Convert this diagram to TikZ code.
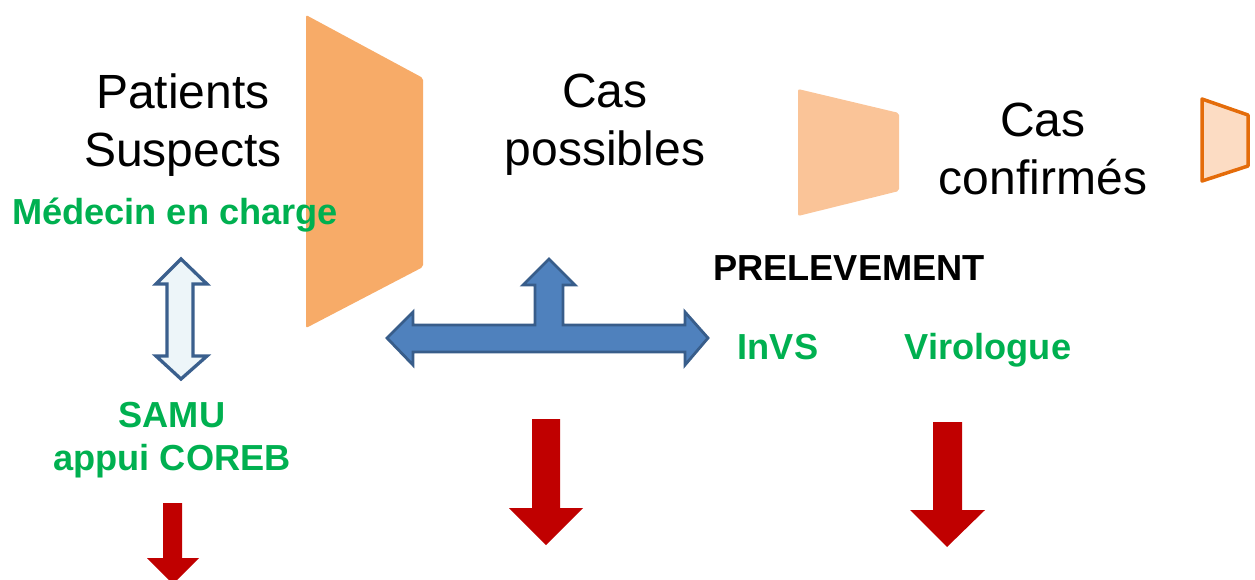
\documentclass[tikz,border=0pt]{standalone}
\usepackage{fontspec}
\setmainfont{Liberation Sans}
\definecolor{funA}{HTML}{F7AB68}
\definecolor{funB}{HTML}{FAC498}
\definecolor{funCfill}{HTML}{FCDCC3}
\definecolor{funCline}{HTML}{E46C0A}
\definecolor{bluefill}{HTML}{4F81BD}
\definecolor{blueline}{HTML}{385D8A}
\definecolor{lightfill}{HTML}{EDF5F9}
\definecolor{navyline}{HTML}{3A5F8D}
\definecolor{darkred}{HTML}{C00000}
\definecolor{grn}{HTML}{00B050}
\tikzset{
  big/.style={font=\fontsize{48}{58}\selectfont, align=center, inner sep=0pt},
  lab/.style={font=\fontsize{36.2}{43}\selectfont\bfseries, text=grn, inner sep=0pt},
  funnel/.style={rounded corners=2pt, draw=none},
  redarrow/.style={fill=darkred, draw=none},
}
\begin{document}
\begin{tikzpicture}[x=1pt,y=-1pt]
\useasboundingbox (0,0) rectangle (1255,579);
% funnels
\fill[funnel, funA] (306,15) -- (423,78) -- (423,267) -- (306,328) -- cycle;
\fill[funnel, funB] (798,89) -- (899,113) -- (899,191) -- (798,216) -- cycle;
\draw[fill=funCfill, draw=funCline, line width=3.5pt, line join=round] (1202,99) -- (1248,115) -- (1248,166) -- (1202,181) -- cycle;
% up-down arrow
\draw[fill=lightfill, draw=navyline, line width=3.3pt, line join=miter]
  (181,259) -- (207,284) -- (193,284) -- (193,356) -- (207,356) -- (181,379)
  -- (156,356) -- (167,356) -- (167,284) -- (156,284) -- cycle;
% three-way blue arrow
\draw[fill=bluefill, draw=blueline, line width=2.8pt, line join=miter]
  (387,338) -- (413,312) -- (413,325) -- (535,325) -- (535,285) -- (523,285)
  -- (549,259) -- (575,285) -- (563,285) -- (563,325) -- (685,325) -- (685,312)
  -- (708,338) -- (685,365) -- (685,352) -- (413,352) -- (413,365) -- cycle;
% red arrows
\fill[redarrow] (163,503) -- (182,503) -- (182,558) -- (199,558) -- (173,584) -- (147,558) -- (163,558) -- cycle;
\fill[redarrow] (532,419) -- (560,419) -- (560,508) -- (583,508) -- (546,545) -- (509,508) -- (532,508) -- cycle;
\fill[redarrow] (933,422) -- (962,422) -- (962,510) -- (985,510) -- (947,547) -- (910,510) -- (933,510) -- cycle;
% texts
\node[big] (ps) at (183,125) {Patients\\Suspects};
\node[big] (cp) at (605,125) {Cas\\possibles};
\node[big] (cc) at (1043,149) {Cas\\confirmés};
\node[lab, anchor=base] (med) at (175,224) {Médecin en charge};
\node[lab, text=black, anchor=base] (prel) at (849,280) {PRELEVEMENT};
\node[lab, anchor=base] (invs) at (778,359) {InVS};
\node[lab, anchor=base] (viro) at (988,359) {Virologue};
\node[lab, align=center] (samu) at (172,440) {SAMU\\appui COREB};
\end{tikzpicture}
\end{document}
